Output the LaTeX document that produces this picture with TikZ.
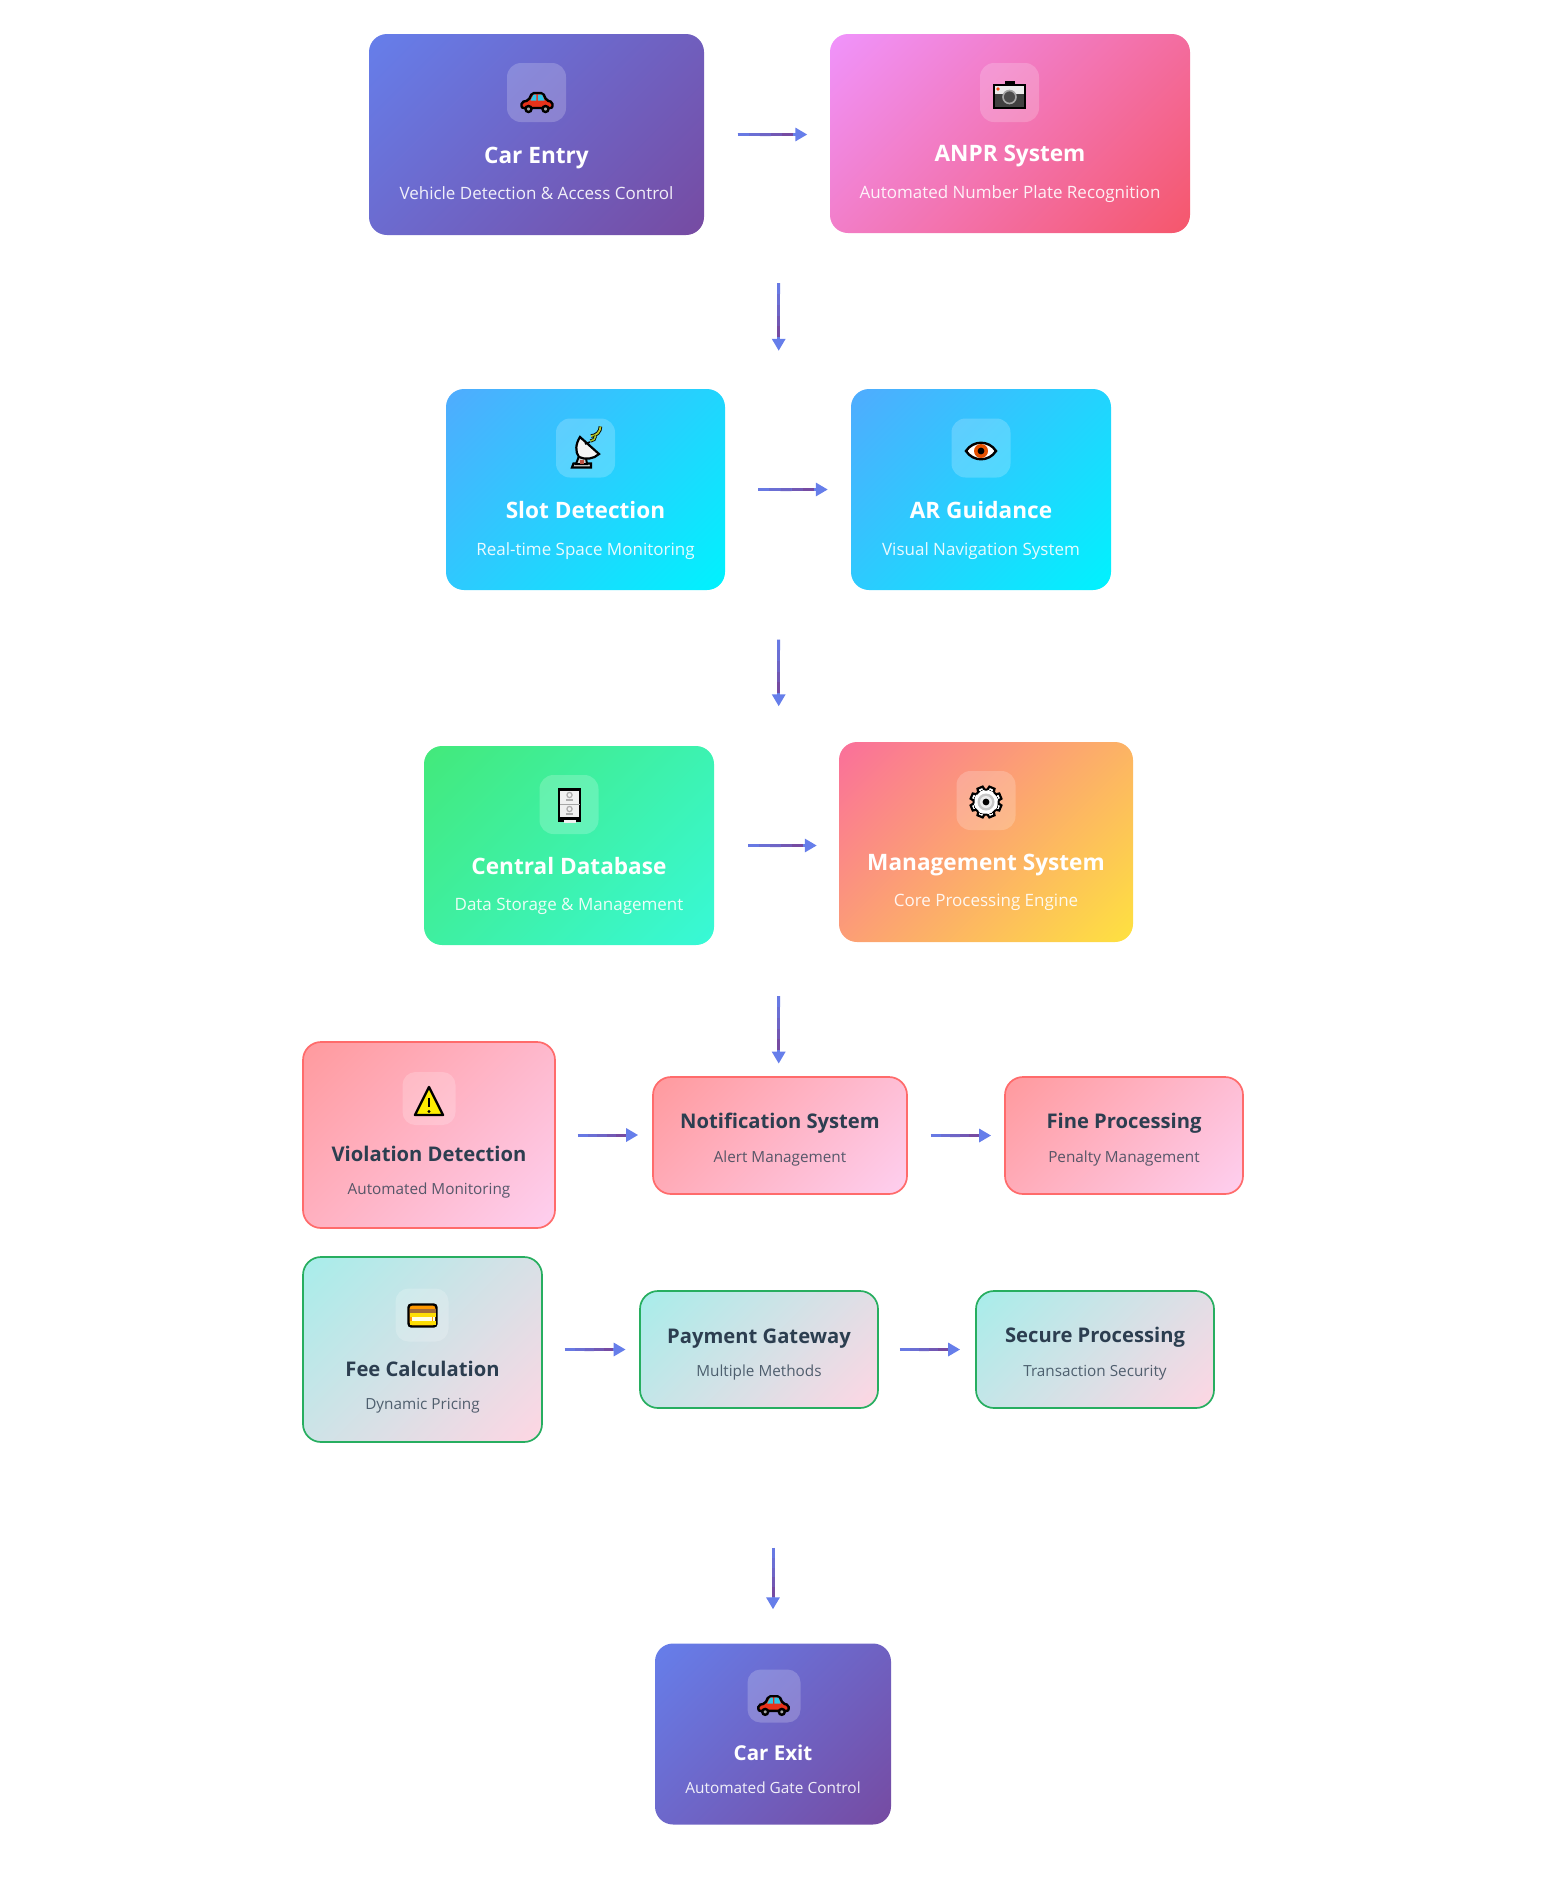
\documentclass[tikz,border=0pt]{standalone}
\usepackage{fontspec}
\setmainfont{Open Sans}
\usetikzlibrary{arrows.meta,calc}

\definecolor{flowblue}{HTML}{667EEA}
\definecolor{flowpurple}{HTML}{764BA2}
\definecolor{pinka}{HTML}{F093FB}
\definecolor{pinkb}{HTML}{F5576C}
\definecolor{cyana}{HTML}{4FACFE}
\definecolor{cyanb}{HTML}{00F2FE}
\definecolor{greena}{HTML}{43E97B}
\definecolor{greenb}{HTML}{38F9D7}
\definecolor{sunsa}{HTML}{FA709A}
\definecolor{sunsb}{HTML}{FEE140}
\definecolor{rosea}{HTML}{FF9A9E}
\definecolor{roseb}{HTML}{FECFEF}
\definecolor{rosedge}{HTML}{FF6B6B}
\definecolor{minta}{HTML}{A8EDEA}
\definecolor{mintb}{HTML}{FED6E3}
\definecolor{mintedge}{HTML}{27AE60}
\definecolor{inkdark}{HTML}{2C3E50}
\definecolor{carred}{HTML}{E8321A}
\definecolor{carglass}{HTML}{2FC6E8}

\pgfdeclarehorizontalshading{rampurple}{100bp}{color(0bp)=(flowblue); color(15bp)=(flowblue); color(85bp)=(flowpurple); color(100bp)=(flowpurple)}
\pgfdeclarehorizontalshading{rampink}{100bp}{color(0bp)=(pinka); color(15bp)=(pinka); color(85bp)=(pinkb); color(100bp)=(pinkb)}
\pgfdeclarehorizontalshading{rampcyan}{100bp}{color(0bp)=(cyana); color(15bp)=(cyana); color(85bp)=(cyanb); color(100bp)=(cyanb)}
\pgfdeclarehorizontalshading{rampgreen}{100bp}{color(0bp)=(greena); color(15bp)=(greena); color(85bp)=(greenb); color(100bp)=(greenb)}
\pgfdeclarehorizontalshading{rampsun}{100bp}{color(0bp)=(sunsa); color(15bp)=(sunsa); color(85bp)=(sunsb); color(100bp)=(sunsb)}
\pgfdeclarehorizontalshading{ramprose}{100bp}{color(0bp)=(rosea); color(15bp)=(rosea); color(85bp)=(roseb); color(100bp)=(roseb)}
\pgfdeclarehorizontalshading{rampmint}{100bp}{color(0bp)=(minta); color(15bp)=(minta); color(85bp)=(mintb); color(100bp)=(mintb)}

\tikzset{
  card/.style={rectangle,rounded corners=18,inner sep=0,shade,shading angle=-45},
  cardpurple/.style={card,shading=rampurple},
  cardpink/.style={card,shading=rampink},
  cardcyan/.style={card,shading=rampcyan},
  cardgreen/.style={card,shading=rampgreen},
  cardsun/.style={card,shading=rampsun},
  cardrose/.style={card,shading=ramprose,draw=rosedge,line width=1.7},
  cardmint/.style={card,shading=rampmint,draw=mintedge,line width=1.7},
  badge/.style={rectangle,rounded corners=14,fill=white,fill opacity=0.2,minimum size=59,inner sep=0},
  badgesmall/.style={badge,minimum size=53,rounded corners=13},
  titlewhite/.style={text=white,font=\fontsize{22.6}{26}\selectfont\bfseries,inner sep=0},
  subwhite/.style={text=white,text opacity=0.9,font=\fontsize{17}{20}\selectfont,inner sep=0},
  titledark/.style={text=inkdark,font=\fontsize{20.2}{24}\selectfont\bfseries,inner sep=0},
  subdark/.style={text=inkdark,text opacity=0.8,font=\fontsize{15.3}{18}\selectfont,inner sep=0},
  flowhead/.style={draw=flowblue,line width=3,-{Triangle[length=12pt,width=13pt]}},
  flowseg/.style={line width=3},
  % emoji drawings
  carpic/.pic={
    \draw[black,line width=2.4,fill=carred,rounded corners=2] (-15.5,6) -- (-15.5,0) -- (-8.5,-1.5) -- (-5,-9) -- (6,-9) -- (9.5,-1.5) -- (15.5,0) -- (15.5,6) -- cycle;
    \fill[carglass] (-6.5,-1.5) -- (-3.5,-7.5) -- (-0.6,-7.5) -- (-0.6,-1.5) -- cycle;
    \fill[carglass] (0.8,-1.5) -- (0.8,-7.5) -- (5,-7.5) -- (7.5,-1.5) -- cycle;
    \draw[black,line width=2.4,fill=gray!70] (-8.5,7) circle (3);
    \draw[black,line width=2.4,fill=gray!70] (8.5,7) circle (3);
  },
  camerapic/.pic={
    \fill[black] (-16.5,-11) rectangle (16.5,14);
    \fill[black] (-5,-14) rectangle (5,-10);
    \fill[gray!15] (-14.5,-9) rectangle (14.5,-1);
    \fill[black!75] (-14.5,-1) rectangle (14.5,12);
    \fill[carred!70!orange] (-11.5,-6) circle (1.8);
    \draw[gray!70,line width=1.6,fill=black!70] (0,2) circle (6.5);
  },
  dishpic/.pic={
    \draw[black,line width=2.2,fill=gray!30] (-13,15.5) -- (-11.5,11.5) -- (6,11.5) -- (6,15.5) -- cycle;
    \draw[black,line width=2,fill=gray!35] (-9,12) -- (-6,4) -- (1,6) -- (2,12) -- cycle;
    \fill[carred!60!gray] (-5,12) rectangle (-1,8);
    \draw[black,line width=2.2,fill=gray!8] (-5,-15) .. controls (-9.5,-8) and (-10,0) .. (-6,5) .. controls (0,8) and (9,7) .. (14,2) -- cycle;
    \draw[black,line width=1.6] (0,-8) -- (5,-10);
    \draw[black,line width=3.6] (6,-16) arc (90:0:9.5);
    \draw[yellow!80!green!85!black,line width=1.8] (6,-16) arc (90:0:9.5);
    \draw[black,line width=3.2] (5.5,-11) arc (90:0:5);
    \draw[yellow!70!green!85!black,line width=1.6] (5.5,-11) arc (90:0:5);
  },
  eyepic/.pic={
    \draw[black,line width=2.4,fill=white] (-15,0) .. controls (-8,-11) and (8,-11) .. (15,0) .. controls (8,11) and (-8,11) .. cycle;
    \fill[orange!70!red!90!black] (0,0) circle (7);
    \fill[black] (0,0) circle (3.4);
  },
  cabinetpic/.pic={
    \draw[black,line width=2.4,fill=gray!12] (-10.5,-15.5) rectangle (10.5,13.5);
    \fill[black] (-11.5,12) rectangle (11.5,16.5);
    \fill[gray!12] (-6,15) rectangle (6,17.5);
    \draw[gray!70,line width=1] (-10,-1) -- (10,-1);
    \foreach \ypos in {-10,4}{
      \draw[gray!65,line width=1.2] (0,\ypos) circle (2.6);
      \draw[gray!65,line width=1.6] (-3.5,\ypos+5) -- (3.5,\ypos+5);
    }
  },
  gearpic/.pic={
    \foreach \ang in {0,45,...,315}{
      \draw[black,line width=2.2,fill=white,rotate=\ang+22.5] (-3.6,-11) -- (-2.8,-15.5) -- (2.8,-15.5) -- (3.6,-11) -- cycle;
    }
    \draw[black,line width=0,fill=white] (0,0) circle (12.5);
    \foreach \ang in {0,45,...,315}{
      \fill[black,rotate=\ang] (-2.8,-13) -- (-1.8,-13.5) -- (1.8,-13.5) -- (2.8,-13) -- (3.5,-11.5) -- (-3.5,-11.5) -- cycle;
      \fill[white,rotate=\ang+22.5] (-3,-12) rectangle (3,-9);
    }
    \fill[gray!45] (0,0) circle (8.5);
    \fill[gray!15] (0,0) circle (6);
    \fill[black] (0,0) circle (3.4);
  },
  warnpic/.pic={
    \draw[black,line width=2.4,fill=yellow!95!orange,line join=round] (0,-14) -- (14,14) -- (-14,14) -- cycle;
    \draw[black,line width=2.6] (0,-3.5) -- (0,6);
    \fill[black] (0,10.5) circle (1.6);
  },
  cardpic/.pic={
    \draw[black,line width=2.4,fill=orange!80!yellow,rounded corners=3] (-14,-11) rectangle (14,11);
    \fill[brown!85!black] (-13,-6.5) rectangle (13,-2.5);
    \fill[yellow!80!orange] (-13,-2.5) rectangle (13,1);
    \fill[white!90!yellow] (-10.5,1.5) rectangle (9,5);
    \fill[white!90!yellow] (10.2,1.5) rectangle (12,5);
    \fill[yellow!80!orange] (-13,5.5) rectangle (13,9.5);
  },
}

\begin{document}
\begin{tikzpicture}[x=1pt,y=-1pt]

    \useasboundingbox (0,0) rectangle (1545,1896);

    % car entry
    \node[cardpurple,minimum width=335,minimum height=201] (carentry) at (536.5,134.5) {};
    \node[badge] (carentryicon) at (536.5,92.5) {};
    \pic at (537,102) {carpic};
    \node[titlewhite] (carentrytitle) at (536.5,158) {Car Entry};
    \node[subwhite] (carentrysub) at (536.5,193.5) {Vehicle Detection \& Access Control};

    % anpr system
    \node[cardpink,minimum width=360,minimum height=199] (anpr) at (1010,133.5) {};
    \node[badge] (anpricon) at (1009.5,92.5) {};
    \pic at (1009.5,95) {camerapic};
    \node[titlewhite] (anprtitle) at (1010,156.5) {ANPR System};
    \node[subwhite] (anprsub) at (1010,194.5) {Automated Number Plate Recognition};

    %%%%%%%%%%%%%%%%%%%%%%%%%%%%%%%%%%%%%%%%%%%%%%%%%%%%%%

    % slot detection
    \node[cardcyan,minimum width=279,minimum height=201] (slot) at (585.5,489.5) {};
    \node[badge] (sloticon) at (585.5,448) {};
    \pic at (585,452) {dishpic};
    \node[titlewhite] (slottitle) at (585.5,510.5) {Slot Detection};
    \node[subwhite] (slotsub) at (585.5,551) {Real-time Space Monitoring};

    % ar guidance
    \node[cardcyan,minimum width=260,minimum height=201] (guidance) at (981,489.5) {};
    \node[badge] (guidanceicon) at (981,448) {};
    \pic at (981,451) {eyepic};
    \node[titlewhite] (guidancetitle) at (981,510.5) {AR Guidance};
    \node[subwhite] (guidancesub) at (981,551) {Visual Navigation System};

    %%%%%%%%%%%%%%%%%%%%%%%%%%%%%%%%%%%%%%%%%%%%%%%%%%%%%%

    % central database
    \node[cardgreen,minimum width=290,minimum height=199] (database) at (569,845.5) {};
    \node[badge] (databaseicon) at (569,804.5) {};
    \pic at (569.5,805) {cabinetpic};
    \node[titlewhite] (databasetitle) at (569,866) {Central Database};
    \node[subwhite] (databasesub) at (569,906.5) {Data Storage \& Management};

    % management system
    \node[cardsun,minimum width=294,minimum height=200] (management) at (986,842) {};
    \node[badge] (managementicon) at (986,800.5) {};
    \pic at (986,802) {gearpic};
    \node[titlewhite] (managementtitle) at (986,865.5) {Management System};
    \node[subwhite] (managementsub) at (986,902.5) {Core Processing Engine};

    %%%%%%%%%%%%%%%%%%%%%%%%%%%%%%%%%%%%%%%%%%%%%%%%%%%%%%

    % violation detection
    \node[cardrose,minimum width=252,minimum height=186] (violation) at (429,1135) {};
    \node[badgesmall] (violationicon) at (429,1098.5) {};
    \pic at (429,1101) {warnpic};
    \node[titledark] (violationtitle) at (429,1154) {Violation Detection};
    \node[subdark] (violationsub) at (429,1190.5) {Automated Monitoring};

    % notification system
    \node[cardrose,minimum width=254,minimum height=117] (notification) at (780,1135.5) {};
    \node[titledark] (notificationtitle) at (780,1123.5) {Notification System};
    \node[subdark] (notificationsub) at (780,1158.5) {Alert Management};

    % fine processing
    \node[cardrose,minimum width=238,minimum height=117] (fine) at (1124,1135.5) {};
    \node[titledark] (finetitle) at (1124,1123.5) {Fine Processing};
    \node[subdark] (finesub) at (1124,1158.5) {Penalty Management};

    %%%%%%%%%%%%%%%%%%%%%%%%%%%%%%%%%%%%%%%%%%%%%%%%%%%%%%

    % fee calculation
    \node[cardmint,minimum width=239,minimum height=185] (fee) at (422.5,1349.5) {};
    \node[badgesmall] (feeicon) at (422,1315) {};
    \pic at (422.5,1315.5) {cardpic};
    \node[titledark] (feetitle) at (422.5,1369) {Fee Calculation};
    \node[subdark] (feesub) at (422.5,1406) {Dynamic Pricing};

    % payment gateway
    \node[cardmint,minimum width=238,minimum height=117] (payment) at (759,1349.5) {};
    \node[titledark] (paymenttitle) at (759,1338.5) {Payment Gateway};
    \node[subdark] (paymentsub) at (759,1372.5) {Multiple Methods};

    % secure processing
    \node[cardmint,minimum width=238,minimum height=117] (secure) at (1095,1349.5) {};
    \node[titledark] (securetitle) at (1095,1337.5) {Secure Processing};
    \node[subdark] (securesub) at (1095,1372.5) {Transaction Security};

    %%%%%%%%%%%%%%%%%%%%%%%%%%%%%%%%%%%%%%%%%%%%%%%%%%%%%%

    % car exit
    \node[cardpurple,minimum width=236,minimum height=181] (carexit) at (773,1734) {};
    \node[badgesmall] (carexiticon) at (774,1696) {};
    \pic[scale=0.98] at (773.5,1705) {carpic};
    \node[titlewhite,font=\fontsize{20.5}{24}\selectfont\bfseries] (carexittitle) at (773,1753) {Car Exit};
    \node[subwhite,font=\fontsize{15.4}{18}\selectfont] (carexitsub) at (773,1788) {Automated Gate Control};

    %%%%%%%%%%%%%%%%%%%%%%%%%%%%%%%%%%%%%%%%%%%%%%%%%%%%%%

    % arrows along a row
    \foreach \from/\to/\gapa/\gapb in {carentry/anpr/33.5/22.5,slot/guidance/33/23,database/management/34/22,violation/notification/22/14,notification/fine/23/13,fee/payment/22/13.5,payment/secure/21/15}{
      \coordinate (flowstart) at ($(\from.east)+(\gapa,0)$);
      \coordinate (flowend) at ($(\to.west |- \from.east)-(\gapb,0)$);
      \draw[flowhead] (flowstart) -- (flowend);
      \foreach \ta/\tb/\shade in {0/0.16/90,0.16/0.32/70,0.32/0.48/50,0.48/0.64/25,0.64/0.8/0}{
        \draw[flowseg,draw=flowblue!\shade!flowpurple] ($(flowstart)!\ta!(flowend)$) -- ($(flowstart)!\tb!(flowend)$);
      }
    }

    % arrows between the rows
    \coordinate (rowaxis) at (778.7,0);
    \foreach \from/\to/\gapa/\gapb/\colaxis in {anpr/slot/50/38/rowaxis,guidance/database/49.5/39.5/rowaxis,management/notification/54/12.5/rowaxis,secure/carexit/139/34/carexit}{
      \coordinate (flowstart) at ($(\from.south -| \colaxis)+(0,\gapa)$);
      \coordinate (flowend) at ($(\to.north -| \colaxis)-(0,\gapb)$);
      \draw[flowhead] (flowstart) -- (flowend);
      \foreach \ta/\tb/\shade in {0/0.16/90,0.16/0.32/70,0.32/0.48/50,0.48/0.64/25,0.64/0.8/0}{
        \draw[flowseg,draw=flowblue!\shade!flowpurple] ($(flowstart)!\ta!(flowend)$) -- ($(flowstart)!\tb!(flowend)$);
      }
    }

\end{tikzpicture}
\end{document}
